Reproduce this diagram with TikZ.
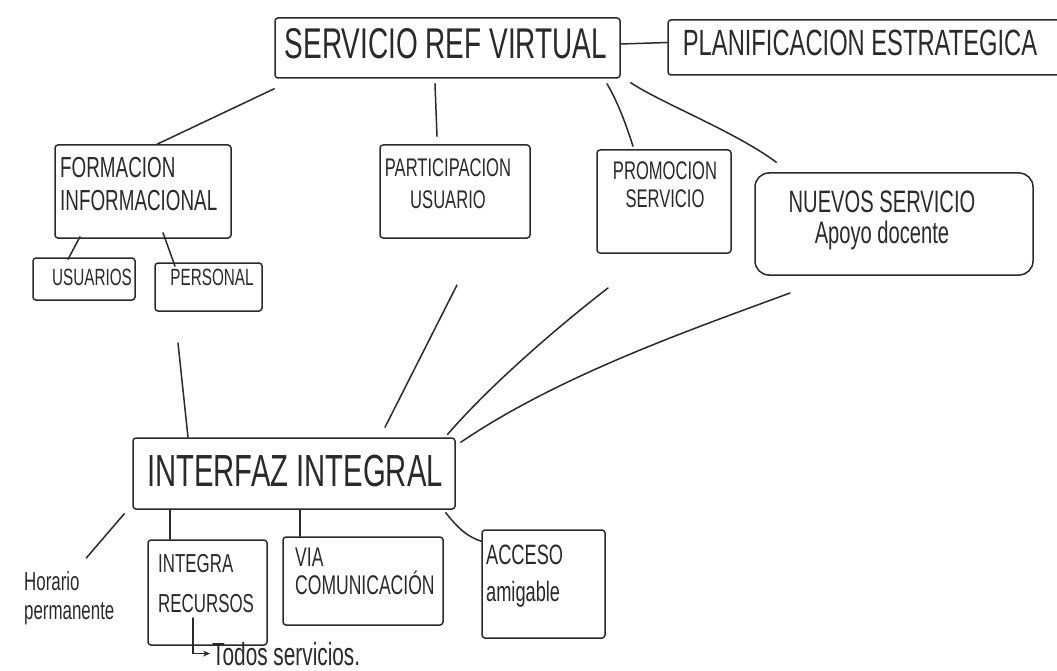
\documentclass[tikz,border=0pt]{standalone}
\usepackage{fontspec}
\newfontfamily\hand{Liberation Sans}[FakeStretch=0.65]
\usetikzlibrary{arrows.meta}
\definecolor{ink}{HTML}{2A2A2A}
\newcommand\handsize[2]{\hand\fontsize{#1}{#2}\selectfont}

\begin{document}
\begin{tikzpicture}[x=1pt,y=-1pt,
  link/.style={draw=ink, line width=1.5pt, line cap=round, line join=round},
  sketchbox/.style 2 args={link, rounded corners=3pt, inner sep=0pt,
    minimum width=#1, minimum height=#2},
  word/.style={inner sep=0pt, text=ink, align=center}
]
\fill[white] (0,0) rectangle (1057,671);
\useasboundingbox (0,0) rectangle (1057,671);
\clip (0,0) rectangle (1057,671);

% boxes
\node[sketchbox={345pt}{60pt}]  (srv)   at (447.5,48)  {};
\node[sketchbox={400pt}{55pt}]  (plan)  at (868,47.5)  {};
\node[sketchbox={176pt}{93pt}]  (form)  at (143,191.5) {};
\node[sketchbox={102pt}{42pt}]  (usu)   at (84,279)    {};
\node[sketchbox={107pt}{48pt}]  (pers)  at (208.5,287) {};
\node[sketchbox={150pt}{93pt}]  (part)  at (455,191.5) {};
\node[sketchbox={134pt}{103pt}] (prom)  at (664,201.5) {};
\node[sketchbox={278pt}{102pt}, rounded corners=14pt] (nue) at (894,224) {};
\node[sketchbox={322pt}{71pt}]  (inter) at (294,473.5) {};
\node[sketchbox={119pt}{105pt}] (integ) at (207.5,592.5) {};
\node[sketchbox={160pt}{88pt}]  (via)   at (363,581)   {};
\node[sketchbox={123pt}{108pt}] (acc)   at (543.5,584) {};

% labels
\node[word, font=\handsize{43}{46}, anchor=north] (srvT) at (446,28) {SERVICIO REF VIRTUAL};
\node[word, font=\handsize{36.5}{40}, anchor=north] (planT) at (860,30) {PLANIFICACION ESTRATEGICA};
\node[word, font=\handsize{29}{33}, anchor=north west, align=left] (formT) at (60,157) {FORMACION\\INFORMACIONAL};
\node[word, font=\handsize{23.5}{26}, anchor=north] (usuT) at (92,269) {USUARIOS};
\node[word, font=\handsize{23.5}{26}, anchor=north] (persT) at (212,269) {PERSONAL};
\node[word, font=\handsize{25.5}{32}, anchor=north] (partT) at (448,158) {PARTICIPACION\\USUARIO};
\node[word, font=\handsize{25.5}{28}, anchor=north] (promT) at (665,161) {PROMOCION\\SERVICIO};
\node[word, font=\handsize{31}{31}, anchor=north] (nueT) at (882,191) {NUEVOS SERVICIO\\Apoyo docente};
\node[word, font=\handsize{45}{48}, anchor=north] (interT) at (295,455) {INTERFAZ INTEGRAL};
\node[word, font=\handsize{26}{29}, anchor=north west, align=left] (horT) at (24,571) {Horario\\permanente};
\node[word, font=\handsize{26}{40}, anchor=north west, align=left] (integT) at (158,554) {INTEGRA\\RECURSOS};
\node[word, font=\handsize{27}{28}, anchor=north west, align=left] (viaT) at (295,548) {VIA\\COMUNICACIÓN};
\node[word, font=\handsize{28}{37}, anchor=north west, align=left] (accT) at (486,545) {ACCESO\\amigable};
\node[word, font=\handsize{32}{36}, anchor=base west] (todT) at (212,665) {Todos servicios.};

% upper connectors
\draw[link] ([yshift=4pt]srv.east) -- ([yshift=5pt]plan.west);
\draw[link] ([yshift=-10pt]srv.south west) -- ([xshift=14pt]form.north);
\draw[link] ([xshift=-12.5pt,yshift=-5pt]srv.south) -- ([xshift=-18pt,yshift=8pt]part.north);
\draw[link] ([xshift=159.5pt,yshift=-5pt]srv.south) .. controls +(10,17) and +(-8,-25) .. ([xshift=-31pt,yshift=3pt]prom.north);
\draw[link] ([xshift=10pt,yshift=-4pt]srv.south east) .. controls +(30,20) and +(-40,-30) .. ([xshift=22pt,yshift=10pt]nue.north west);
\draw[link] ([xshift=-63pt,yshift=2pt]form.south) -- ([xshift=-16pt,yshift=-2pt]usu.north);
\draw[link] ([xshift=20pt,yshift=6pt]form.south) -- ([xshift=-33.5pt,yshift=-4pt]pers.north);

% lines converging on the interface box
\coordinate (fA) at (178,343);
\coordinate (fB) at (457,285);
\coordinate (fC) at (608,288);
\coordinate (fD) at (790,293);
\draw[link] (fA) -- ([xshift=-106pt]inter.north);
\draw[link] (fB) -- ([xshift=91pt,yshift=10pt]inter.north);
\draw[link] (fC) .. controls (560,325) and (490,385) .. ([xshift=-8pt,yshift=3pt]inter.north east);
\draw[link] (fD) .. controls (690,330) and (560,375) .. ([xshift=5pt,yshift=-5pt]inter.north east);

% lower connectors
\draw[link] ([xshift=-8pt,yshift=-4pt]inter.south west) -- ([xshift=17pt,yshift=13pt]horT.north);
\draw[link] ([xshift=-124pt]inter.south) -- ([xshift=-37.5pt]integ.north);
\draw[link] ([xshift=6pt]inter.south) -- ([xshift=-63pt]via.north);
\draw[link] ([xshift=-10pt,yshift=-3pt]inter.south east) .. controls +(12,15) and +(-15,-5) .. ([yshift=-12pt]acc.north west);
\draw[link, -{Stealth[length=7pt,width=6pt]}, shorten >=2pt] ([xshift=-14.5pt,yshift=-25.5pt]integ.center) |- (todT.west);
\end{tikzpicture}
\end{document}
